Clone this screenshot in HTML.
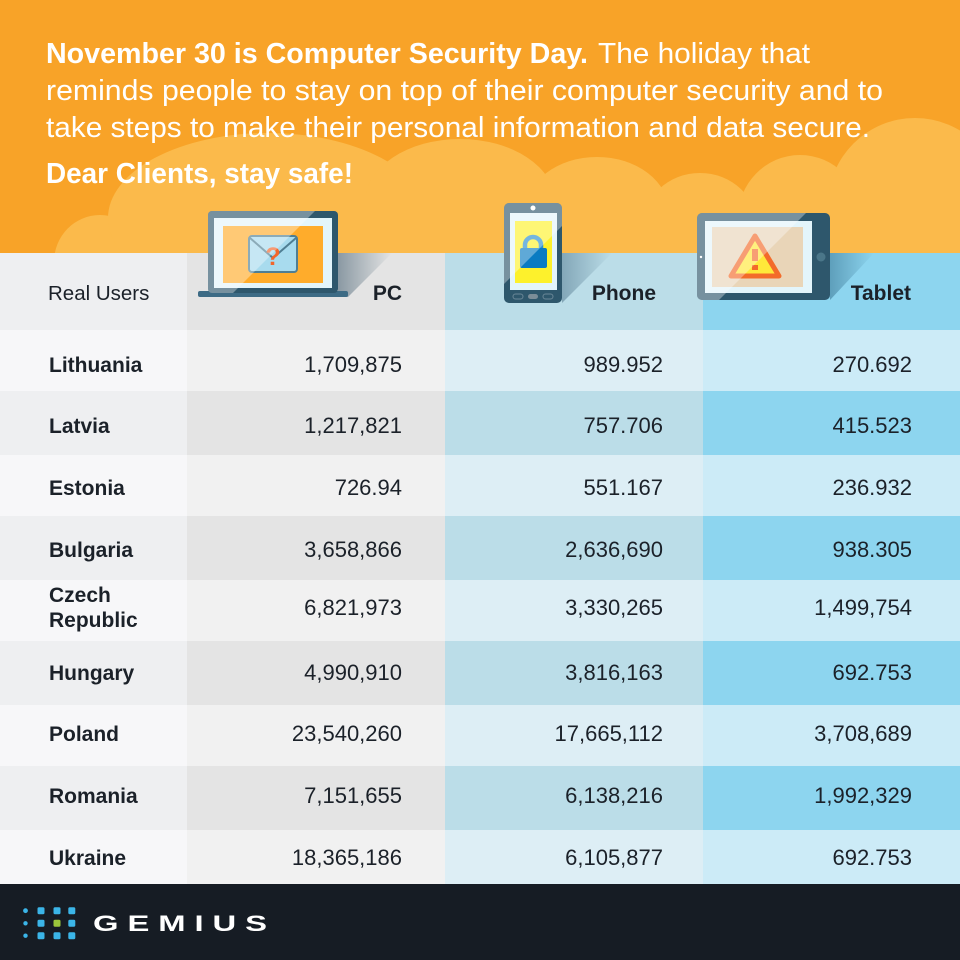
<!DOCTYPE html>
<html>
<head>
<meta charset="utf-8">
<style>
  html, body { margin: 0; padding: 0; background: #ffffff; }
  svg { display: block; }
  text { font-family: "Liberation Sans", "DejaVu Sans", sans-serif; }
</style>
</head>
<body>
<svg width="960" height="960" viewBox="0 0 960 960" xmlns="http://www.w3.org/2000/svg">
  <defs>
    <linearGradient id="shLap" x1="0" y1="0" x2="1" y2="0">
      <stop offset="0" stop-color="#8A99A3"/>
      <stop offset="1" stop-color="#E4E4E4"/>
    </linearGradient>
    <linearGradient id="shPhone" x1="0" y1="0" x2="1" y2="0">
      <stop offset="0" stop-color="#83A7B8"/>
      <stop offset="1" stop-color="#BBDDE8"/>
    </linearGradient>
    <linearGradient id="shTab" x1="0" y1="0" x2="1" y2="0">
      <stop offset="0" stop-color="#5E9FBB"/>
      <stop offset="1" stop-color="#8DD5EF"/>
    </linearGradient>
    <clipPath id="clipLap"><rect x="208" y="211" width="130" height="82" rx="4"/></clipPath>
    <clipPath id="clipPhone"><rect x="504" y="203" width="58" height="100" rx="5"/></clipPath>
    <clipPath id="clipTab"><rect x="697" y="213" width="133" height="87" rx="5"/></clipPath>
  </defs>

  <!-- Orange header -->
  <rect x="0" y="0" width="960" height="254" fill="#F8A328"/>
  <g fill="#FBBA4B">
    <ellipse cx="100" cy="262" rx="46" ry="47"/>
    <ellipse cx="268" cy="218" rx="160" ry="85"/>
    <ellipse cx="460" cy="202" rx="95" ry="63"/>
    <ellipse cx="597" cy="212" rx="72" ry="55"/>
    <ellipse cx="700" cy="228" rx="58" ry="55"/>
    <ellipse cx="800" cy="218" rx="62" ry="63"/>
    <circle cx="915" cy="205" r="87"/>
    <rect x="240" y="195" width="720" height="60"/>
  </g>

  <!-- Title text -->
  <g fill="#FFFFFF">
    <text x="46" y="63" font-size="29" font-weight="bold" textLength="542" lengthAdjust="spacingAndGlyphs">November 30 is Computer Security Day.</text>
    <text x="598" y="63" font-size="29" textLength="212" lengthAdjust="spacingAndGlyphs">The holiday that</text>
    <text x="46" y="100" font-size="29" textLength="837" lengthAdjust="spacingAndGlyphs">reminds people to stay on top of their computer security and to</text>
    <text x="46" y="137" font-size="29" textLength="824" lengthAdjust="spacingAndGlyphs">take steps to make their personal information and data secure.</text>
    <text x="46" y="183" font-size="29" font-weight="bold" textLength="307" lengthAdjust="spacingAndGlyphs">Dear Clients, stay safe!</text>
  </g>

  <!-- Table header row -->
  <rect x="0" y="253" width="187" height="77" fill="#EEEFF1"/>
  <rect x="187" y="253" width="258" height="77" fill="#E4E4E4"/>
  <rect x="445" y="253" width="258" height="77" fill="#BBDDE8"/>
  <rect x="703" y="253" width="257" height="77" fill="#8DD5EF"/>

  <!-- Row backgrounds -->
  <g>
    <rect x="0" y="330" width="187" height="61" fill="#F7F7F9"/>
    <rect x="187" y="330" width="258" height="61" fill="#F1F1F1"/>
    <rect x="445" y="330" width="258" height="61" fill="#DDEEF5"/>
    <rect x="703" y="330" width="257" height="61" fill="#CCEBF7"/>

    <rect x="0" y="391" width="187" height="64" fill="#EEEFF1"/>
    <rect x="187" y="391" width="258" height="64" fill="#E4E4E4"/>
    <rect x="445" y="391" width="258" height="64" fill="#BBDDE8"/>
    <rect x="703" y="391" width="257" height="64" fill="#8DD5EF"/>

    <rect x="0" y="455" width="187" height="61" fill="#F7F7F9"/>
    <rect x="187" y="455" width="258" height="61" fill="#F1F1F1"/>
    <rect x="445" y="455" width="258" height="61" fill="#DDEEF5"/>
    <rect x="703" y="455" width="257" height="61" fill="#CCEBF7"/>

    <rect x="0" y="516" width="187" height="64" fill="#EEEFF1"/>
    <rect x="187" y="516" width="258" height="64" fill="#E4E4E4"/>
    <rect x="445" y="516" width="258" height="64" fill="#BBDDE8"/>
    <rect x="703" y="516" width="257" height="64" fill="#8DD5EF"/>

    <rect x="0" y="580" width="187" height="61" fill="#F7F7F9"/>
    <rect x="187" y="580" width="258" height="61" fill="#F1F1F1"/>
    <rect x="445" y="580" width="258" height="61" fill="#DDEEF5"/>
    <rect x="703" y="580" width="257" height="61" fill="#CCEBF7"/>

    <rect x="0" y="641" width="187" height="64" fill="#EEEFF1"/>
    <rect x="187" y="641" width="258" height="64" fill="#E4E4E4"/>
    <rect x="445" y="641" width="258" height="64" fill="#BBDDE8"/>
    <rect x="703" y="641" width="257" height="64" fill="#8DD5EF"/>

    <rect x="0" y="705" width="187" height="61" fill="#F7F7F9"/>
    <rect x="187" y="705" width="258" height="61" fill="#F1F1F1"/>
    <rect x="445" y="705" width="258" height="61" fill="#DDEEF5"/>
    <rect x="703" y="705" width="257" height="61" fill="#CCEBF7"/>

    <rect x="0" y="766" width="187" height="64" fill="#EEEFF1"/>
    <rect x="187" y="766" width="258" height="64" fill="#E4E4E4"/>
    <rect x="445" y="766" width="258" height="64" fill="#BBDDE8"/>
    <rect x="703" y="766" width="257" height="64" fill="#8DD5EF"/>

    <rect x="0" y="830" width="187" height="54" fill="#F7F7F9"/>
    <rect x="187" y="830" width="258" height="54" fill="#F1F1F1"/>
    <rect x="445" y="830" width="258" height="54" fill="#DDEEF5"/>
    <rect x="703" y="830" width="257" height="54" fill="#CCEBF7"/>
  </g>

  <!-- Laptop icon -->
  <polygon points="338,253 392,253 348,297 338,297" fill="url(#shLap)"/>
  <rect x="198" y="291" width="150" height="6" rx="2" fill="#3D6B85"/>
  <rect x="208" y="211" width="130" height="82" rx="4" fill="#2E576C"/>
  <rect x="214" y="218" width="118" height="70" fill="#E3F5FB"/>
  <rect x="223" y="226" width="100" height="57" fill="#FFAC2B"/>
  <rect x="249" y="236" width="48" height="36" rx="3" fill="#A8DBEE" stroke="#4F7E93" stroke-width="2"/>
  <polyline points="250,238 273,258 296,238" fill="none" stroke="#4F7E93" stroke-width="2"/>
  <text x="273" y="265" font-size="25" font-weight="bold" fill="#F2652B" text-anchor="middle">?</text>
  <polygon points="200,205 321,205 226,300 200,300" fill="#FFFFFF" fill-opacity="0.35" clip-path="url(#clipLap)"/>

  <!-- Phone icon -->
  <polygon points="562,253 612,253 562,303" fill="url(#shPhone)"/>
  <rect x="504" y="203" width="58" height="100" rx="5" fill="#2E576C"/>
  <rect x="510" y="213" width="47" height="77" fill="#E3F5FB"/>
  <rect x="515" y="221" width="37" height="62" fill="#FDF12C"/>
  <path d="M525 250 V245 A8 8 0 0 1 541 245 V250" fill="none" stroke="#2A8FD0" stroke-width="4.5"/>
  <rect x="520" y="248" width="27" height="20" rx="2" fill="#0A7BC2"/>
  <circle cx="533" cy="208" r="2.5" fill="#FFFFFF"/>
  <rect x="513" y="294" width="10" height="5" rx="2.5" fill="none" stroke="#6A8797" stroke-width="1"/>
  <rect x="528" y="294" width="10" height="5" rx="2.5" fill="#7B8D98"/>
  <rect x="543" y="294" width="10" height="5" rx="2.5" fill="none" stroke="#6A8797" stroke-width="1"/>
  <polygon points="400,200 588,200 483,305 400,305" fill="#FFFFFF" fill-opacity="0.35" clip-path="url(#clipPhone)"/>

  <!-- Tablet icon -->
  <polygon points="830,253 874,253 830,300" fill="url(#shTab)"/>
  <rect x="697" y="213" width="133" height="87" rx="5" fill="#2E576C"/>
  <rect x="705" y="221" width="107" height="72" fill="#E3F5FB"/>
  <rect x="712" y="227" width="91" height="60" fill="#E9D5B8"/>
  <polygon points="755,236 731,276 779,276" fill="#FFE83A" stroke="#F36B2A" stroke-width="5" stroke-linejoin="round"/>
  <rect x="752" y="249" width="6" height="12" fill="#F36B2A"/>
  <rect x="752" y="265" width="6" height="5" fill="#F36B2A"/>
  <circle cx="821" cy="257" r="4.5" fill="#4A7689"/>
  <circle cx="701" cy="257" r="1.2" fill="#FFFFFF"/>
  <polygon points="690,205 814,205 719,300 690,300" fill="#FFFFFF" fill-opacity="0.35" clip-path="url(#clipTab)"/>

  <!-- Header labels -->
  <g fill="#1B2129">
    <text x="48" y="300" font-size="20.5">Real Users</text>
    <text x="402" y="300" font-size="21" font-weight="bold" text-anchor="end">PC</text>
    <text x="656" y="300" font-size="21" font-weight="bold" text-anchor="end">Phone</text>
    <text x="911" y="300" font-size="21" font-weight="bold" text-anchor="end">Tablet</text>
  </g>

  <!-- Row text -->
  <g fill="#1B2129" font-size="21" font-weight="bold">
    <text x="49" y="372">Lithuania</text>
    <text x="49" y="433">Latvia</text>
    <text x="49" y="495">Estonia</text>
    <text x="49" y="557">Bulgaria</text>
    <text x="49" y="602">Czech</text>
    <text x="49" y="627">Republic</text>
    <text x="49" y="680">Hungary</text>
    <text x="49" y="741">Poland</text>
    <text x="49" y="803">Romania</text>
    <text x="49" y="865">Ukraine</text>
  </g>
  <g fill="#1B2129" font-size="22" text-anchor="end">
    <text x="402" y="372">1,709,875</text>
    <text x="663" y="372">989.952</text>
    <text x="912" y="372">270.692</text>

    <text x="402" y="433">1,217,821</text>
    <text x="663" y="433">757.706</text>
    <text x="912" y="433">415.523</text>

    <text x="402" y="495">726.94</text>
    <text x="663" y="495">551.167</text>
    <text x="912" y="495">236.932</text>

    <text x="402" y="557">3,658,866</text>
    <text x="663" y="557">2,636,690</text>
    <text x="912" y="557">938.305</text>

    <text x="402" y="615">6,821,973</text>
    <text x="663" y="615">3,330,265</text>
    <text x="912" y="615">1,499,754</text>

    <text x="402" y="680">4,990,910</text>
    <text x="663" y="680">3,816,163</text>
    <text x="912" y="680">692.753</text>

    <text x="402" y="741">23,540,260</text>
    <text x="663" y="741">17,665,112</text>
    <text x="912" y="741">3,708,689</text>

    <text x="402" y="803">7,151,655</text>
    <text x="663" y="803">6,138,216</text>
    <text x="912" y="803">1,992,329</text>

    <text x="402" y="865">18,365,186</text>
    <text x="663" y="865">6,105,877</text>
    <text x="912" y="865">692.753</text>
  </g>

  <!-- Footer -->
  <rect x="0" y="884" width="960" height="76" fill="#161C24"/>
  <g fill="#3BB5E8">
    <circle cx="25.5" cy="910.7" r="2.4"/>
    <circle cx="25.5" cy="923.3" r="2.2"/>
    <circle cx="25.5" cy="935.7" r="2.2"/>
    <rect x="37.5" y="907.3" width="7" height="7" rx="1.5"/>
    <rect x="37.5" y="919.8" width="7" height="7" rx="1.5"/>
    <rect x="37.5" y="932.2" width="7" height="7" rx="1.5"/>
    <rect x="53.5" y="907.3" width="7" height="7" rx="1.5"/>
    <rect x="53.5" y="932.2" width="7" height="7" rx="1.5"/>
    <rect x="68.3" y="907.3" width="7" height="7" rx="1.5"/>
    <rect x="68.3" y="919.8" width="7" height="7" rx="1.5"/>
    <rect x="68.3" y="932.2" width="7" height="7" rx="1.5"/>
  </g>
  <rect x="53.5" y="919.8" width="7" height="7" rx="1.5" fill="#9BC63B"/>
  <text x="93" y="931" font-size="22" font-weight="bold" fill="#FFFFFF" letter-spacing="6" textLength="183" lengthAdjust="spacingAndGlyphs">GEMIUS</text>
</svg>
</body>
</html>
